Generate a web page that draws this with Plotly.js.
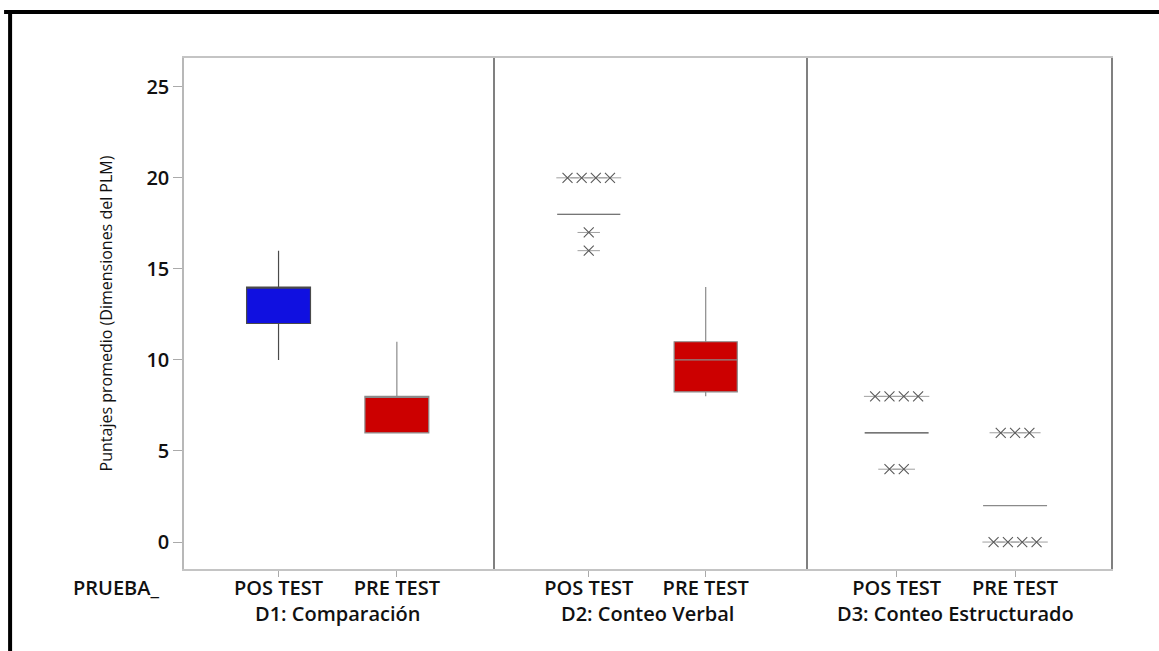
<!DOCTYPE html>
<html>
<head>
<meta charset="utf-8">
<script src="https://cdn.plot.ly/plotly-3.0.1.min.js"></script>
<style>
html,body{margin:0;padding:0;background:#fff;}
#chart{width:1159px;height:651px;}
</style>
</head>
<body>
<div id="chart"></div>
<script>
// ---- data ----
const groups = ['D1: Comparación', 'D2: Conteo Verbal', 'D3: Conteo Estructurado'];
const tests = ['POS TEST', 'PRE TEST'];
// per group: [POS TEST, PRE TEST]
const q1Vals      = [[12, 6], [18, 8.25], [6, 2]];
const medianVals  = [[14, 8], [18, 10],   [6, 2]];
const q3Vals      = [[14, 8], [18, 11],   [6, 2]];
const lowerVals   = [[10, 6], [18, 8],    [6, 2]];
const upperVals   = [[16, 11],[18, 14],   [6, 2]];
const outlierVals = [
  [[], []],
  [[20, 20, 20, 20, 17, 16], []],
  [[8, 8, 8, 8, 4, 4], [6, 6, 6, 0, 0, 0, 0]]
];
const yTicks = [0, 5, 10, 15, 20, 25];

// ---- styling ----
const fillColors = ['#1010E0', '#CC0000'];
const lineColors = ['#4a4a4a', '#8a8a8a'];
const FONT = 'Open Sans, Noto Sans, sans-serif';
const boxWidth = 0.54;
const stackStep = 0.121;
const xRanges = [[-0.799, 1.828], [-0.803, 1.872], [-0.751, 1.81]];
const domains = [[0, 0.3353], [0.3353, 0.6728], [0.6728, 1]];

const traces = [];
groups.forEach((g, gi) => {
  const ax = gi === 0 ? '' : String(gi + 1);
  tests.forEach((t, ti) => {
    traces.push({
      type: 'box',
      x: [ti],
      q1: [q1Vals[gi][ti]],
      median: [medianVals[gi][ti]],
      q3: [q3Vals[gi][ti]],
      lowerfence: [lowerVals[gi][ti]],
      upperfence: [upperVals[gi][ti]],
      width: boxWidth,
      whiskerwidth: 0,
      fillcolor: fillColors[ti],
      line: {color: lineColors[ti], width: 1.2},
      boxpoints: false,
      hoverinfo: 'y',
      showlegend: false,
      xaxis: 'x' + ax,
      yaxis: 'y' + ax
    });
    // outliers, identical values stacked side by side
    const vals = outlierVals[gi][ti];
    if (vals.length) {
      const counts = {};
      vals.forEach(v => counts[v] = (counts[v] || 0) + 1);
      const seen = {};
      const xs = [], ys = [];
      vals.forEach(v => {
        const n = counts[v];
        const i = seen[v] || 0;
        seen[v] = i + 1;
        xs.push(ti + (i - (n - 1) / 2) * stackStep);
        ys.push(v);
      });
      traces.push({
        type: 'scatter', mode: 'markers', x: xs, y: ys,
        marker: {symbol: 'line-ew-open', size: 16, color: '#a0a0a0', line: {color: '#a0a0a0', width: 1}},
        hoverinfo: 'skip', showlegend: false, xaxis: 'x' + ax, yaxis: 'y' + ax, cliponaxis: false
      });
      traces.push({
        type: 'scatter', mode: 'markers', x: xs, y: ys,
        marker: {symbol: 'x-thin-open', size: 10, color: '#5a5a5a', line: {color: '#5a5a5a', width: 1.1}},
        hoverinfo: 'y', showlegend: false, xaxis: 'x' + ax, yaxis: 'y' + ax, cliponaxis: false
      });
    }
  });
});

const yRange = [-1.48, 26.58];
const tickFont = {family: FONT, size: 20, color: '#111', weight: 600};

const layout = {
  width: 1159, height: 651,
  margin: {l: 184, r: 47.5, t: 58, b: 82},
  paper_bgcolor: '#fff', plot_bgcolor: '#fff',
  showlegend: false,
  font: {family: FONT},
  yaxis: {
    range: yRange, tickvals: yTicks, ticks: 'outside', ticklen: 9, tickcolor: '#aaa',
    showline: true, linecolor: '#b8b8b8', linewidth: 1.5, showgrid: false, zeroline: false,
    tickfont: tickFont,
    title: {text: 'Puntajes promedio (Dimensiones del PLM)', font: {family: FONT, size: 16, color: '#111'}, standoff: 30}
  },
  annotations: [],
  shapes: [
    {type: 'line', xref: 'paper', yref: 'paper', x0: -0.1941, x1: 1.06, y0: 1.090, y1: 1.090, line: {color: '#000', width: 4}},
    {type: 'line', xref: 'paper', yref: 'paper', x0: -0.1876, x1: -0.1876, y0: 1.094, y1: -0.2, line: {color: '#000', width: 4}}
  ]
};

groups.forEach((g, gi) => {
  const ax = gi === 0 ? '' : String(gi + 1);
  layout['xaxis' + ax] = {
    domain: domains[gi], range: xRanges[gi], anchor: 'y' + ax,
    tickvals: [0, 1], ticktext: tests, ticks: 'outside', ticklen: 6, tickcolor: '#aaa',
    ticklabelstandoff: -6,
    showline: true, mirror: true, linecolor: '#c4c4c4', linewidth: 1.5,
    showgrid: false, zeroline: false, tickfont: tickFont
  };
  if (gi > 0) {
    layout['yaxis' + ax] = {
      range: yRange, anchor: 'x' + ax, showticklabels: false, ticks: '',
      showline: true, linecolor: '#808080', linewidth: 1.5, mirror: gi === 2,
      showgrid: false, zeroline: false
    };
  }
  layout.annotations.push({
    xref: 'x' + ax, yref: 'paper', x: 0.5, y: -0.057, yanchor: 'top',
    text: g, showarrow: false, font: tickFont
  });
});
layout.annotations.push({
  xref: 'paper', yref: 'paper', x: -0.0248, xanchor: 'right', y: -0.005, yanchor: 'top',
  text: 'PRUEBA_', showarrow: false, font: tickFont
});

Plotly.newPlot('chart', traces, layout, {displayModeBar: false, staticPlot: false});
</script>
</body>
</html>
